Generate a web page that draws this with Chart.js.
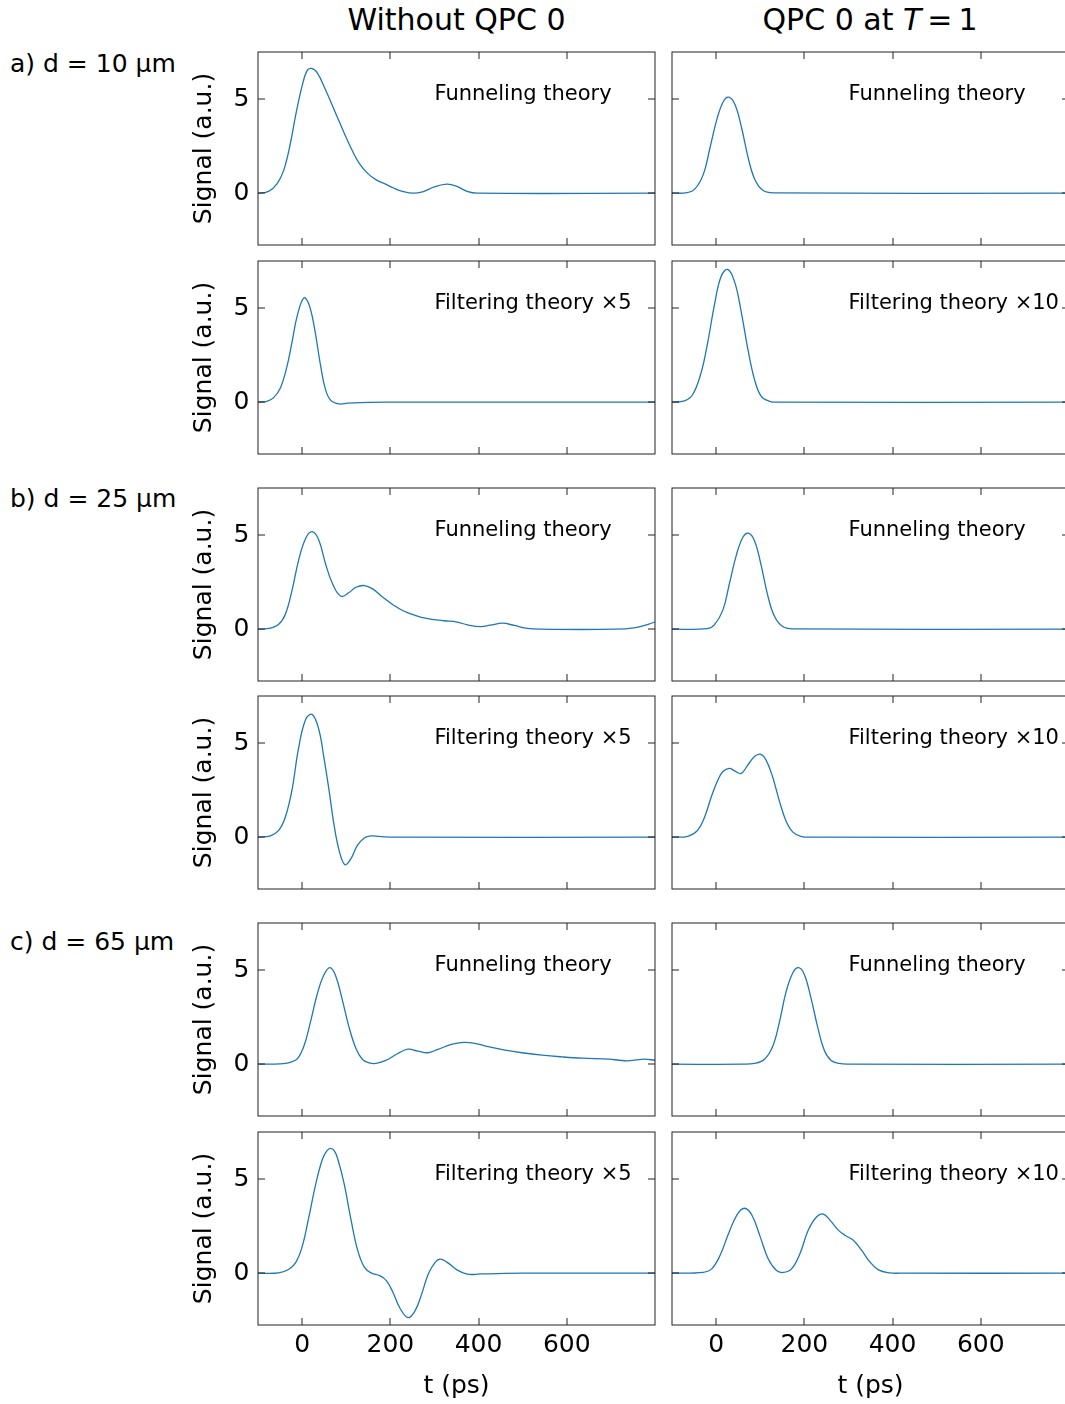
<!DOCTYPE html>
<html>
<head>
<meta charset="utf-8">
<script src="https://cdn.jsdelivr.net/npm/chart.js@4.4.1/dist/chart.umd.min.js"></script>
<style>
  html, body { margin: 0; padding: 0; overflow: hidden; background: #fff; }
  body { width: 1065px; height: 1404px; position: relative; font-family: "DejaVu Sans", sans-serif; color: #000; }
  canvas { position: absolute; }
  .coltitle { position: absolute; top: 5px; font-size: 30px; line-height: 30px; text-align: center; white-space: nowrap; }
  .rowlabel { position: absolute; left: 10px; font-size: 25px; line-height: 25px; white-space: nowrap; }
</style>
</head>
<body>
<div class="coltitle" style="left:258px;width:397px">Without QPC 0</div>
<div class="coltitle" style="left:672px;width:396px">QPC 0 at <i>T</i>&thinsp;=&thinsp;1</div>
<div class="rowlabel" style="top:51px">a) d = 10 µm</div>
<div class="rowlabel" style="top:486px">b) d = 25 µm</div>
<div class="rowlabel" style="top:929px">c) d = 65 µm</div>
<script>
// tick positions
const xTicks = [0, 200, 400, 600];
const yTicks = [0, 5];

// d = 10 um, without QPC
const tFunnel10 = [-100, -76, -57, -42, -27, -15, 0, 11, 21, 34, 53, 76, 99, 115, 130, 149, 168, 188, 206, 229, 252, 275, 298, 328, 351, 374, 397, 800];
const sFunnel10 = [0, 0.1, 0.5, 1.2, 2.6, 4.1, 5.7, 6.5, 6.63, 6.4, 5.5, 4.25, 3.0, 2.2, 1.57, 1.04, 0.71, 0.5, 0.29, 0.09, 0, 0.09, 0.32, 0.48, 0.36, 0.1, 0, 0];
const tFilter10 = [-100, -80, -65, -49, -34, -23, -11, 4, 15, 27, 42, 53, 65, 84, 103, 133, 194, 800];
const sFilter10 = [0, 0.05, 0.23, 0.77, 1.93, 3.18, 4.6, 5.54, 5.23, 4.07, 1.93, 0.68, 0.1, -0.09, -0.05, -0.02, 0, 0];
// d = 10 um, QPC 0 at T = 1
const tFunnelQ10 = [-100, -66, -48, -29, -14, 2, 17, 29, 43, 58, 73, 88, 107, 130, 800];
const sFunnelQ10 = [0, 0.03, 0.23, 1.0, 2.4, 3.95, 4.9, 5.1, 4.7, 3.45, 1.85, 0.72, 0.14, 0.02, 0];
const tFilterQ10 = [-100, -72, -53, -34, -19, -4, 11, 26, 42, 57, 72, 87, 102, 121, 140, 800];
const sFilterQ10 = [0, 0.07, 0.41, 1.57, 3.18, 5.14, 6.66, 7.05, 6.39, 4.79, 2.82, 1.21, 0.32, 0.05, 0, 0];

// d = 25 um, without QPC
const tFunnel25 = [-100, -76, -53, -38, -23, -8, 8, 23, 38, 53, 69, 88, 107, 122, 141, 160, 183, 206, 229, 252, 282, 321, 351, 375, 405, 430, 454, 481, 511, 542, 710, 756, 786, 800];
const sFunnel25 = [0, 0.04, 0.27, 0.8, 2.05, 3.66, 4.82, 5.18, 4.73, 3.48, 2.41, 1.75, 1.96, 2.23, 2.32, 2.14, 1.7, 1.3, 0.98, 0.77, 0.57, 0.45, 0.38, 0.23, 0.14, 0.23, 0.32, 0.2, 0.04, 0, 0, 0.09, 0.27, 0.39];
const tFilter25 = [-100, -72, -53, -38, -23, -8, 8, 23, 38, 49, 61, 72, 84, 97, 110, 125, 141, 156, 175, 209, 800];
const sFilter25 = [0, 0.07, 0.36, 1.07, 2.5, 4.73, 6.25, 6.52, 5.71, 4.29, 2.5, 0.71, -0.71, -1.46, -1.16, -0.45, -0.04, 0.07, 0.04, 0, 0];
// d = 25 um, QPC 0 at T = 1
const tFunnelQ25 = [-100, -20, -4, 15, 30, 46, 61, 73, 87, 102, 117, 132, 151, 174, 800];
const sFunnelQ25 = [0, 0.03, 0.23, 1.0, 2.4, 3.95, 4.9, 5.1, 4.7, 3.4, 1.8, 0.7, 0.14, 0.02, 0];
const tFilterQ25 = [-100, -64, -42, -26, -11, 4, 15, 30, 42, 57, 72, 87, 100, 113, 128, 143, 158, 174, 192, 215, 800];
const sFilterQ25 = [0, 0.05, 0.36, 1.07, 2.14, 3.04, 3.48, 3.66, 3.52, 3.39, 3.84, 4.29, 4.41, 4.11, 3.21, 1.96, 0.89, 0.27, 0.05, 0, 0];

// d = 65 um, without QPC
const tFunnel65 = [-100, -49, -27, -11, 4, 19, 34, 49, 63, 76, 91, 106, 122, 137, 152, 164, 179, 194, 217, 240, 262, 285, 308, 338, 365, 392, 422, 460, 498, 544, 589, 635, 696, 719, 738, 757, 776, 800];
const sFunnel65 = [0, 0.02, 0.1, 0.28, 0.95, 2.25, 3.7, 4.72, 5.13, 4.7, 3.43, 2.0, 0.84, 0.25, 0.07, 0.03, 0.11, 0.25, 0.57, 0.8, 0.7, 0.61, 0.79, 1.05, 1.16, 1.11, 0.93, 0.75, 0.61, 0.48, 0.39, 0.32, 0.27, 0.21, 0.18, 0.23, 0.27, 0.21];
const tFilter65 = [-100, -53, -31, -15, 0, 15, 31, 46, 56, 65, 73, 80, 95, 111, 126, 141, 156, 176, 191, 206, 221, 240, 256, 271, 286, 302, 313, 328, 351, 374, 405, 443, 500, 800];
const sFilter65 = [0, 0.02, 0.2, 0.55, 1.4, 2.95, 4.75, 6.05, 6.5, 6.63, 6.5, 6.13, 4.79, 2.82, 1.21, 0.32, 0.02, -0.13, -0.39, -1.02, -1.82, -2.36, -2.0, -1.11, -0.04, 0.59, 0.75, 0.59, 0.18, -0.05, -0.04, -0.02, 0, 0];
// d = 65 um, QPC 0 at T = 1
const tFunnelQ65 = [-100, 60, 87, 109, 128, 143, 158, 174, 187, 200, 215, 230, 245, 260, 279, 298, 800];
const sFunnelQ65 = [0, 0, 0.04, 0.25, 0.93, 2.18, 3.79, 4.86, 5.13, 4.77, 3.52, 2.0, 0.75, 0.21, 0.04, 0, 0];
const tFilterQ65 = [-100, -29, -10, 9, 28, 47, 64, 81, 100, 118, 137, 152, 171, 190, 209, 228, 243, 258, 277, 292, 311, 330, 349, 368, 394, 417, 800];
const sFilterQ65 = [0, 0.05, 0.23, 0.95, 2.1, 3.09, 3.45, 3.09, 1.93, 0.77, 0.14, 0.04, 0.23, 1.04, 2.29, 3.0, 3.14, 2.82, 2.29, 2.02, 1.75, 1.21, 0.59, 0.18, 0.02, 0, 0];

const funnelNote = "Funneling theory";
const filterNote = ["Filtering theory \u00d75", "Filtering theory \u00d710"];

const panels = [
  [0, 0, tFunnel10, sFunnel10, funnelNote], [0, 1, tFunnelQ10, sFunnelQ10, funnelNote],
  [1, 0, tFilter10, sFilter10, filterNote[0]], [1, 1, tFilterQ10, sFilterQ10, filterNote[1]],
  [2, 0, tFunnel25, sFunnel25, funnelNote], [2, 1, tFunnelQ25, sFunnelQ25, funnelNote],
  [3, 0, tFilter25, sFilter25, filterNote[0]], [3, 1, tFilterQ25, sFilterQ25, filterNote[1]],
  [4, 0, tFunnel65, sFunnel65, funnelNote], [4, 1, tFunnelQ65, sFunnelQ65, funnelNote],
  [5, 0, tFilter65, sFilter65, filterNote[0]], [5, 1, tFilterQ65, sFilterQ65, filterNote[1]]
];

// layout of the plot boxes in page pixels
const colLeft = [258, 672];
const plotW = 397;
const rowTop = [52, 261, 488, 696, 923, 1132];
const plotH = 193;
const axisW = 80;
const pad = 8;

Chart.defaults.font.family = "'DejaVu Sans', sans-serif";
Chart.defaults.color = "#000";

// box around the plot with inward ticks, plus the panel caption
const framePlugin = {
  id: "frame",
  afterDatasetsDraw(chart, args, opts) {
    const ctx = chart.ctx;
    const a = chart.chartArea;
    const x = chart.scales.x;
    const y = chart.scales.y;
    ctx.save();
    ctx.font = "21px 'DejaVu Sans'";
    ctx.fillStyle = "#000";
    ctx.textBaseline = "alphabetic";
    ctx.fillText(opts.note, x.getPixelForValue(300), y.getPixelForValue(4.95));

    ctx.strokeStyle = "#222";
    ctx.lineWidth = 1;
    ctx.strokeRect(a.left, a.top, a.right - a.left, a.bottom - a.top);
    ctx.beginPath();
    xTicks.forEach(v => {
      const px = Math.round(x.getPixelForValue(v));
      ctx.moveTo(px, a.top); ctx.lineTo(px, a.top + 7);
      ctx.moveTo(px, a.bottom); ctx.lineTo(px, a.bottom - 7);
    });
    yTicks.forEach(v => {
      const py = Math.round(y.getPixelForValue(v));
      ctx.moveTo(a.left, py); ctx.lineTo(a.left + 7, py);
      ctx.moveTo(a.right, py); ctx.lineTo(a.right - 7, py);
    });
    ctx.stroke();
    ctx.restore();
  }
};

panels.forEach(([row, col, tArr, sArr, note]) => {
  const isLeft = col === 0;
  const isBottom = row === rowTop.length - 1;
  const canvas = document.createElement("canvas");
  const w = axisW + plotW + pad;
  const h = pad + plotH + (isBottom ? 80 : pad);
  canvas.width = w;
  canvas.height = h;
  canvas.style.left = (colLeft[col] - axisW) + "px";
  canvas.style.top = (rowTop[row] - pad) + "px";
  canvas.style.width = w + "px";
  canvas.style.height = h + "px";
  document.body.appendChild(canvas);

  new Chart(canvas.getContext("2d"), {
    type: "line",
    data: {
      datasets: [{
        data: tArr.map((t, i) => ({ x: t, y: sArr[i] })),
        borderColor: "#1f77b4",
        borderWidth: 1.3,
        pointRadius: 0,
        fill: false,
        tension: 0.4
      }]
    },
    options: {
      responsive: false,
      animation: false,
      events: [],
      layout: { autoPadding: false, padding: { top: pad, right: pad, bottom: isBottom ? 0 : pad, left: 0 } },
      plugins: {
        legend: { display: false },
        tooltip: { enabled: false },
        frame: { note: note }
      },
      scales: {
        x: {
          type: "linear",
          min: -100,
          max: 800,
          afterBuildTicks: s => { s.ticks = xTicks.map(v => ({ value: v })); },
          afterFit: s => { s.height = isBottom ? 80 : 0; s.paddingLeft = 0; s.paddingRight = 0; },
          grid: { display: false, drawTicks: false },
          border: { display: false },
          ticks: { display: isBottom, padding: 5, maxRotation: 0, font: { size: 25 } },
          title: { display: isBottom, text: "t (ps)", font: { size: 25 }, padding: { top: 0, bottom: 4 } }
        },
        y: {
          type: "linear",
          min: -2.75,
          max: 7.5,
          afterBuildTicks: s => { s.ticks = yTicks.map(v => ({ value: v })); },
          afterFit: s => { s.width = axisW; s.paddingTop = 0; s.paddingBottom = 0; },
          grid: { display: false, drawTicks: false },
          border: { display: false },
          ticks: { display: isLeft, padding: 8.5, font: { size: 25 } },
          title: { display: isLeft, text: "Signal (a.u.)", font: { size: 25 }, padding: { top: 11, bottom: 0 } }
        }
      }
    },
    plugins: [framePlugin]
  });
});
</script>
</body>
</html>
